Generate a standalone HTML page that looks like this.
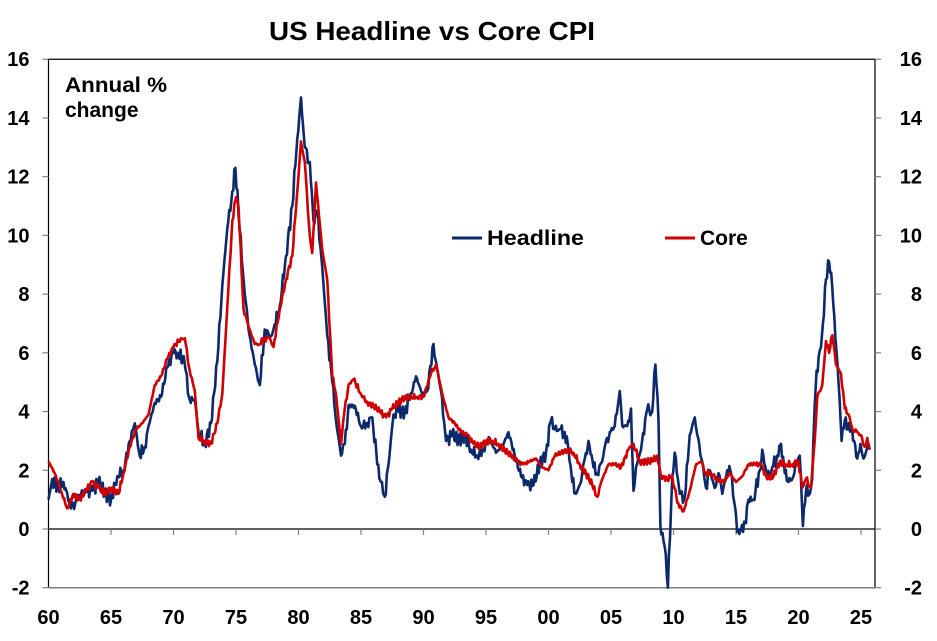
<!DOCTYPE html>
<html><head><meta charset="utf-8"><style>
body{margin:0;background:#fff;}
svg{display:block;font-family:"Liberation Sans",Arial,sans-serif;}
</style></head><body>
<svg id="s" width="937" height="641" viewBox="0 0 937 641" xmlns="http://www.w3.org/2000/svg">
<rect width="937" height="641" fill="#fff"/>
<text x="432" y="40" text-anchor="middle" font-size="26" font-weight="bold" textLength="326" lengthAdjust="spacingAndGlyphs">US Headline vs Core CPI</text>
<text x="65" y="92" font-size="21" font-weight="bold" textLength="102" lengthAdjust="spacingAndGlyphs">Annual %</text>
<text x="65" y="117" font-size="21" font-weight="bold">change</text>
<g id="axes"></g>
<g id="lines"></g>
<line x1="452" y1="238" x2="482" y2="238" stroke="#0c2a6b" stroke-width="3"/>
<text x="487" y="245" font-size="21" font-weight="bold" textLength="97" lengthAdjust="spacingAndGlyphs">Headline</text>
<line x1="665" y1="238" x2="695" y2="238" stroke="#d00000" stroke-width="3"/>
<text x="700" y="245" font-size="21" font-weight="bold">Core</text>
</svg>
<script>
var L=48.5,R=875,X=function(t){return L+(t-1960)*12.5;},Y=function(v){return 529-v*29.36;};
var ns="http://www.w3.org/2000/svg";
function el(p,n,a,txt){var e=document.createElementNS(ns,n);for(var k in a)e.setAttribute(k,a[k]);if(txt!=null)e.textContent=txt;p.appendChild(e);return e;}
var ax=document.getElementById('axes');
el(ax,'line',{x1:L,y1:Y(16),x2:R,y2:Y(16),stroke:'#000','stroke-width':1.2});
el(ax,'line',{x1:L,y1:Y(16),x2:L,y2:Y(-2),stroke:'#000','stroke-width':1.2});
el(ax,'line',{x1:R,y1:Y(16),x2:R,y2:Y(-2),stroke:'#000','stroke-width':1.2});
el(ax,'line',{x1:L,y1:Y(-2),x2:R,y2:Y(-2),stroke:'#808080','stroke-width':1.5});
el(ax,'line',{x1:L,y1:Y(0),x2:R,y2:Y(0),stroke:'#000','stroke-width':1.2});
for(var v=-2;v<=16;v+=2){var y=Y(v);
el(ax,'line',{x1:L-6,y1:y,x2:L,y2:y,stroke:'#808080','stroke-width':1.2});
el(ax,'line',{x1:R,y1:y,x2:R+6,y2:y,stroke:'#808080','stroke-width':1.2});
el(ax,'text',{x:L-19,y:y+7,'font-size':20,'font-weight':'bold','text-anchor':'end'},String(v));
el(ax,'text',{x:R+47,y:y+7,'font-size':20,'font-weight':'bold','text-anchor':'end'},String(v));}
var labs=['60','65','70','75','80','85','90','95','00','05','10','15','20','25'];
for(var i=0;i<labs.length;i++){var x=X(1960+5*i);
if(i>0)el(ax,'line',{x1:x,y1:Y(0),x2:x,y2:Y(0)+6,stroke:'#808080','stroke-width':1.2});
el(ax,'text',{x:x,y:624,'font-size':20,'font-weight':'bold','text-anchor':'middle'},labs[i]);}
var H=[1960.0,1.0,1960.3,1.7,1960.8,1.4,1961.2,1.6,1961.5,1.2,1961.8,0.7,1962.2,1.0,1962.6,1.2,1963.0,1.3,1963.5,1.3,1964.0,1.6,1964.5,1.2,1965.0,1.0,1965.5,1.8,1966.0,2.0,1966.5,3.0,1966.9,3.6,1967.3,2.5,1967.7,2.8,1968.0,3.5,1968.5,4.3,1969.0,4.5,1969.5,5.5,1970.0,6.0,1970.4,6.0,1970.9,5.6,1971.3,4.4,1971.7,4.4,1972.0,3.3,1972.5,2.9,1973.0,3.6,1973.5,5.7,1973.9,8.3,1974.3,10.2,1974.7,11.5,1974.95,12.3,1975.3,10.2,1975.7,8.0,1976.0,6.8,1976.5,5.6,1976.9,4.9,1977.3,6.8,1977.7,6.5,1978.0,6.8,1978.5,7.6,1979.0,9.3,1979.5,11.0,1979.9,13.3,1980.2,14.7,1980.5,13.0,1980.9,12.5,1981.2,10.5,1981.5,10.8,1981.9,8.9,1982.3,6.6,1982.7,5.0,1983.0,3.7,1983.4,2.5,1983.7,2.9,1984.0,4.2,1984.5,4.2,1985.0,3.5,1985.5,3.6,1985.9,3.8,1986.3,2.2,1986.6,1.6,1986.9,1.1,1987.2,2.2,1987.6,3.9,1988.0,4.0,1988.5,4.0,1988.9,4.4,1989.4,5.2,1989.9,4.6,1990.3,4.7,1990.8,6.3,1991.0,5.7,1991.4,4.7,1991.8,3.0,1992.3,3.2,1992.8,3.0,1993.3,3.2,1993.8,2.7,1994.3,2.5,1994.8,2.7,1995.3,3.1,1995.8,2.6,1996.3,2.8,1996.8,3.3,1997.3,2.5,1997.8,1.8,1998.3,1.5,1998.8,1.5,1999.3,2.2,1999.8,2.6,2000.2,3.7,2000.5,3.4,2000.9,3.4,2001.3,3.3,2001.6,2.7,2001.9,1.6,2002.2,1.2,2002.6,1.6,2002.9,2.4,2003.2,3.0,2003.6,2.1,2003.9,1.9,2004.3,2.3,2004.6,3.0,2004.9,3.3,2005.3,3.5,2005.7,4.7,2005.9,3.5,2006.3,3.5,2006.6,4.1,2006.8,1.3,2007.0,2.1,2007.4,2.7,2007.9,4.1,2008.3,4.0,2008.55,5.6,2008.8,3.7,2008.95,0.1,2009.3,-0.6,2009.55,-2.0,2009.9,1.8,2010.1,2.6,2010.5,1.2,2010.9,1.1,2011.3,3.2,2011.7,3.8,2011.9,3.2,2012.3,2.3,2012.6,1.4,2012.9,2.0,2013.3,1.4,2013.6,1.9,2013.9,1.2,2014.3,2.0,2014.6,1.9,2014.9,0.8,2015.1,-0.1,2015.4,0.0,2015.8,0.2,2016.0,1.0,2016.4,1.0,2016.9,2.0,2017.1,2.7,2017.5,1.7,2017.9,2.1,2018.3,2.5,2018.6,2.9,2018.9,1.9,2019.2,1.6,2019.6,1.8,2019.9,2.3,2020.1,2.5,2020.35,0.1,2020.6,1.3,2020.9,1.2,2021.1,1.7,2021.3,4.2,2021.45,5.4,2021.8,6.2,2021.95,7.0,2022.2,8.5,2022.45,9.1,2022.7,8.2,2022.95,6.5,2023.2,5.0,2023.45,3.0,2023.7,3.7,2023.95,3.4,2024.2,3.5,2024.45,3.0,2024.7,2.4,2024.95,2.9,2025.2,2.4,2025.45,2.7,2025.6,2.9,2025.7,2.7];
var C=[1960.0,2.3,1960.5,1.9,1961.0,1.3,1961.5,0.7,1962.0,1.2,1962.5,1.0,1963.0,1.3,1963.5,1.6,1964.0,1.4,1964.5,1.2,1965.0,1.4,1965.6,1.2,1966.0,1.9,1966.5,2.8,1967.0,3.4,1967.5,3.6,1968.0,3.9,1968.5,4.9,1969.0,5.2,1969.5,5.8,1970.0,6.2,1970.6,6.5,1970.9,6.5,1971.3,5.4,1971.7,4.7,1972.0,3.1,1972.5,3.0,1973.0,2.9,1973.5,3.6,1973.9,4.6,1974.3,7.5,1974.7,10.5,1975.0,11.3,1975.2,11.0,1975.6,7.5,1976.0,6.9,1976.5,6.3,1976.9,6.3,1977.3,6.5,1977.7,6.5,1978.0,6.2,1978.5,7.5,1979.0,8.5,1979.5,9.3,1979.9,11.5,1980.2,13.2,1980.5,12.5,1980.9,10.0,1981.1,9.4,1981.4,11.8,1981.9,9.5,1982.3,8.5,1982.7,5.2,1983.0,4.6,1983.4,2.9,1983.7,4.1,1984.0,4.9,1984.4,5.1,1985.0,4.6,1985.5,4.3,1986.0,4.2,1986.5,4.0,1987.0,3.8,1987.5,4.1,1988.0,4.3,1988.5,4.5,1989.0,4.5,1989.5,4.5,1990.0,4.5,1990.6,5.3,1991.0,5.6,1991.5,4.6,1992.0,3.8,1992.5,3.6,1993.0,3.3,1993.5,3.2,1994.0,2.9,1994.5,2.8,1995.0,3.0,1995.5,3.0,1996.0,2.9,1996.5,2.7,1997.0,2.5,1997.5,2.3,1998.0,2.2,1998.5,2.3,1999.0,2.4,1999.5,2.1,2000.0,2.0,2000.5,2.5,2001.0,2.6,2001.5,2.7,2002.0,2.6,2002.5,2.2,2003.0,1.9,2003.5,1.5,2003.9,1.1,2004.3,1.7,2004.8,2.2,2005.3,2.2,2005.8,2.1,2006.5,2.8,2006.8,2.9,2007.3,2.3,2007.8,2.3,2008.3,2.3,2008.7,2.5,2009.0,1.8,2009.5,1.7,2009.9,1.8,2010.3,0.9,2010.8,0.6,2011.3,1.3,2011.8,2.2,2012.2,2.3,2012.6,1.9,2013.0,1.9,2013.5,1.7,2014.0,1.6,2014.5,1.9,2015.0,1.6,2015.5,1.8,2016.0,2.2,2016.5,2.2,2017.0,2.2,2017.5,1.7,2018.0,1.8,2018.5,2.3,2019.0,2.2,2019.5,2.2,2020.0,2.3,2020.3,1.4,2020.6,1.7,2021.0,1.4,2021.3,3.0,2021.5,4.5,2021.9,4.9,2022.2,6.4,2022.45,6.0,2022.7,6.6,2023.0,5.6,2023.4,5.3,2023.7,4.1,2024.0,3.9,2024.4,3.3,2024.7,3.3,2025.0,3.2,2025.3,2.8,2025.5,3.1,2025.7,2.7];
function path(a,jit){var d='';for(var i=0;i<a.length;i+=2){var t=a[i],v=a[i+1];d+=(i?'L':'M')+X(t).toFixed(1)+','+Y(v).toFixed(1);
if(i+2<a.length){var t2=a[i+2],v2=a[i+3];var n=Math.floor((t2-t)*12);for(var k=1;k<n;k++){var tt=t+k/12,f=(tt-t)/(t2-t);var vv=v+(v2-v)*f+jit*Math.sin(tt*37.3)*Math.sin(tt*11.1);d+='L'+X(tt).toFixed(1)+','+Y(vv).toFixed(1);}}}return d;}
var g=document.getElementById('lines');
el(g,'path',{d:path(H,0.25),fill:'none',stroke:'#0c2a6b','stroke-width':2.6,'stroke-linejoin':'round'});
el(g,'path',{d:path(C,0.12),fill:'none',stroke:'#d00000','stroke-width':2.6,'stroke-linejoin':'round'});
</script>
</body></html>
